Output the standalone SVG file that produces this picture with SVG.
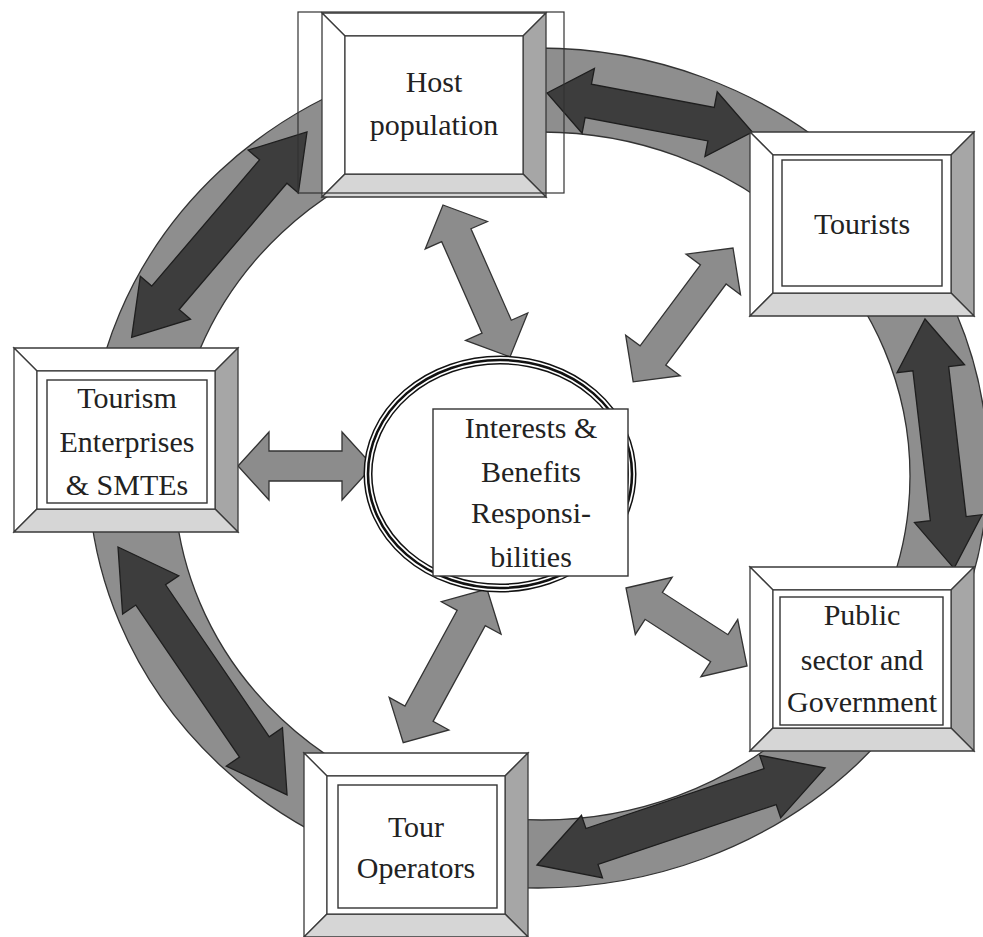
<svg xmlns="http://www.w3.org/2000/svg" xmlns:xlink="http://www.w3.org/1999/xlink" width="983" height="937" viewBox="0 0 983 937">
<style>
.ring{fill:#8e8e8e;stroke:#333;stroke-width:1.3;fill-rule:evenodd}
.dark{fill:#3d3d3d;stroke:#1e1e1e;stroke-width:1.3;stroke-linejoin:miter}
.spoke{fill:#8c8c8c;stroke:#333;stroke-width:1.3}
.bt{fill:#fff;stroke:#3a3a3a;stroke-width:1.3}
.br{fill:#a6a6a6;stroke:#3a3a3a;stroke-width:1.3}
.bb{fill:#d6d6d6;stroke:#3a3a3a;stroke-width:1.3}
.tr{fill:#fff;stroke:#333;stroke-width:1.4}
.lbl{font-family:"Liberation Serif","Times New Roman",serif;font-size:30px;fill:#222;text-anchor:middle}
</style>
<defs>
<g id="frame">
<polygon class="bt" points="0,0 224,0 201,23 23,23"/>
<polygon class="bt" points="0,0 23,23 23,161 0,184"/>
<polygon class="br" points="224,0 224,184 201,161 201,23"/>
<polygon class="bb" points="0,184 23,161 201,161 224,184"/>
<rect x="23" y="23" width="178" height="138" fill="#fff" stroke="#3a3a3a" stroke-width="1.2"/>
</g>
</defs>
<rect width="983" height="937" fill="#fff"/>
<g id="connectors">
<path class="ring" d="M88,468 a450,420 0 1,0 900,0 a450,420 0 1,0 -900,0 Z M174,476 a368,344 0 1,0 736,0 a368,344 0 1,0 -736,0 Z"/>
<polygon class="dark" transform="translate(547,93) rotate(10.77)" points="0,0 42,-33 42,-17 167,-17 167,-33 209,0 167,33 167,17 42,17 42,33"/>
<polygon class="dark" transform="translate(307,132) rotate(130.5)" points="0,0 52,-33 52,-18 218,-18 218,-33 270,0 218,33 218,18 52,18 52,33"/>
<polygon class="dark" transform="translate(118,547) rotate(55.7)" points="0,0 58,-34 58,-18 242,-18 242,-34 300,0 242,34 242,18 58,18 58,34"/>
<polygon class="dark" transform="translate(537,865) rotate(-18.6)" points="0,0 58,-33 58,-19 246,-19 246,-33 304,0 246,33 246,19 58,19 58,33"/>
<polygon class="dark" transform="translate(925,319) rotate(83.36)" points="0,0 50,-34 50,-18 201,-18 201,-34 251,0 201,34 201,18 50,18 50,34"/>
<polygon class="spoke" transform="translate(443,205) rotate(66.2)" points="0,0 33,-34 33,-16 133,-16 133,-34 166,0 133,34 133,16 33,16 33,34"/>
<polygon class="spoke" transform="translate(733,248) rotate(126.7)" points="0,0 33,-34 33,-16 134,-16 134,-34 167,0 134,34 134,16 33,16 33,34"/>
<polygon class="spoke" transform="translate(238,466)" points="0,0 31,-34 31,-15 104,-15 104,-34 135,0 104,34 104,15 31,15 31,34"/>
<polygon class="spoke" transform="translate(487,589) rotate(118.6)" points="0,0 33,-34 33,-16 142,-16 142,-34 175,0 142,34 142,16 33,16 33,34"/>
<polygon class="spoke" transform="translate(626,588) rotate(32.8)" points="0,0 33,-34 33,-16 111,-16 111,-34 144,0 111,34 111,16 33,16 33,34"/>
</g>
<g id="center">
<ellipse cx="500" cy="474" rx="132" ry="114" fill="#fff" stroke="#111" stroke-width="9"/>
<ellipse cx="500" cy="474" rx="132" ry="114" fill="none" stroke="#fff" stroke-width="6"/>
<ellipse cx="500" cy="474" rx="132" ry="114" fill="none" stroke="#111" stroke-width="2.6"/>
<rect class="tr" x="433" y="409" width="195" height="167"/>
<text class="lbl"><tspan x="531" y="438">Interests &amp;</tspan><tspan x="531" y="482">Benefits</tspan><tspan x="531" y="523">Responsi-</tspan><tspan x="531" y="567">bilities</tspan></text>
</g>
<g id="host">
<use xlink:href="#frame" transform="translate(322,13)"/>
<rect x="298" y="12" width="266" height="181" fill="none" stroke="#333" stroke-width="1.2"/>
<text class="lbl"><tspan x="434" y="92">Host</tspan><tspan x="434" y="135">population</tspan></text>
</g>
<g id="tourists">
<use xlink:href="#frame" transform="translate(750,132)"/>
<rect class="tr" x="782" y="160" width="160" height="126"/>
<text class="lbl" x="862" y="234">Tourists</text>
</g>
<g id="enterprises">
<use xlink:href="#frame" transform="translate(14,348)"/>
<rect class="tr" x="47" y="380" width="160" height="123"/>
<text class="lbl"><tspan x="127" y="408">Tourism</tspan><tspan x="127" y="452">Enterprises</tspan><tspan x="127" y="495">&amp; SMTEs</tspan></text>
</g>
<g id="public">
<use xlink:href="#frame" transform="translate(750,567)"/>
<rect class="tr" x="780" y="597" width="163" height="128"/>
<text class="lbl"><tspan x="862" y="625">Public</tspan><tspan x="862" y="670">sector and</tspan><tspan x="862" y="712">Government</tspan></text>
</g>
<g id="operators">
<use xlink:href="#frame" transform="translate(304,753)"/>
<rect class="tr" x="338" y="785" width="159" height="123"/>
<text class="lbl"><tspan x="416" y="837">Tour</tspan><tspan x="416" y="878">Operators</tspan></text>
</g>
</svg>
